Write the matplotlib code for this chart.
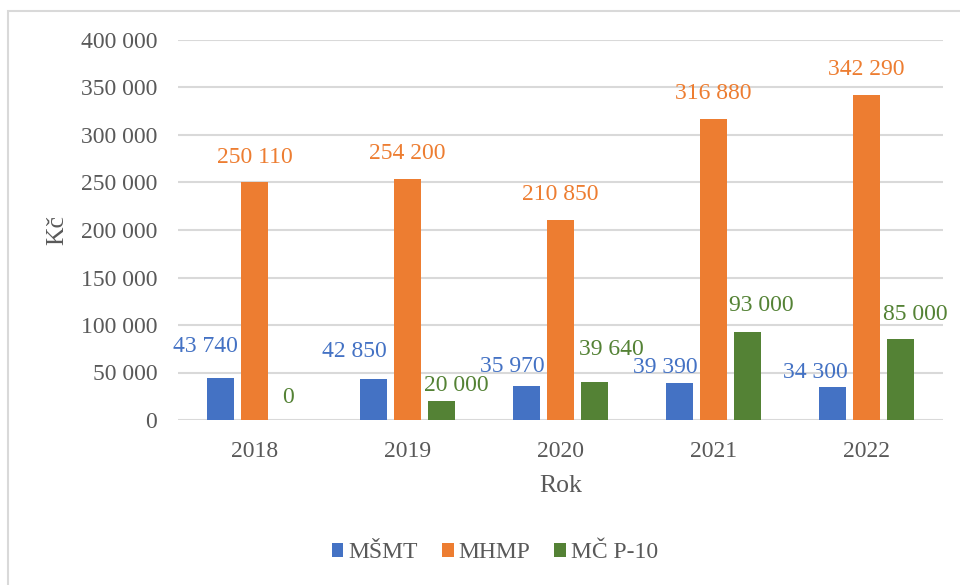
import matplotlib
matplotlib.use("Agg")
import matplotlib.pyplot as plt
from matplotlib.patches import Rectangle
import numpy as np

years = ["2018", "2019", "2020", "2021", "2022"]
series_names = ["MŠMT", "MHMP", "MČ P-10"]
msmt = [43740, 42850, 35970, 39390, 34300]
mhmp = [250110, 254200, 210850, 316880, 342290]
mcp10 = [0, 20000, 39640, 93000, 85000]
colors = ["#4472C4", "#ED7D31", "#548235"]

# label offsets (points) relative to bar top center, as placed in the reference
label_dx = [[-11, -14, -10, -10, -12],
            [0, 0, 0, 0, 0],
            [0, 11, 12, 10, 11]]
label_dy = [[23, 20, 14, 11, 11],
            [18, 18, 18, 18, 18],
            [16, 11, 24, 19, 18]]

def fmt(v):
    return f"{v:,}".replace(",", " ")

FAM = ['Liberation Serif', 'DejaVu Serif']
plt.rcParams['font.family'] = FAM
txt = "#595959"

fig = plt.figure(figsize=(9.6, 5.85), dpi=100)
W, H = 960, 585
ax = fig.add_axes([178 / W, 1 - 420 / H, (943 - 178) / W, (420 - 40) / H])

# chart border
fig.patches.append(Rectangle((8 / W, -0.1), 1.2, 1 - 11 / H + 0.1, transform=fig.transFigure,
                             fill=False, edgecolor="#D9D9D9", linewidth=1.5, zorder=0))

x = np.arange(len(years))
step = 0.222
width = 0.176
data = [msmt, mhmp, mcp10]
for k, (vals, col, name) in enumerate(zip(data, colors, series_names)):
    xs = x + (k - 1) * step
    ax.bar(xs, vals, width=width, color=col, label=name, zorder=3)
    for i, v in enumerate(vals):
        ax.annotate(fmt(v), (xs[i], v), xytext=(label_dx[k][i], label_dy[k][i]),
                    textcoords="offset points", ha="center", va="center",
                    color=col, fontsize=17, family=FAM)

ax.set_xlim(-0.5, len(years) - 0.5)
ax.set_ylim(0, 400000)
ax.set_yticks(np.arange(0, 400001, 50000))
ax.set_yticklabels([fmt(v) for v in range(0, 400001, 50000)])
ax.set_xticks(x)
ax.set_xticklabels(years)
ax.tick_params(axis="both", length=0, labelsize=17, labelcolor=txt)
ax.tick_params(axis="y", pad=15)
ax.tick_params(axis="x", pad=15)
ax.grid(axis="y", color="#D9D9D9", linewidth=1.5, zorder=0)
for s in ax.spines.values():
    s.set_visible(False)
ax.set_axisbelow(True)

ax.set_xlabel("Rok", fontsize=18.5, color=txt, labelpad=9.5)
fig.text(57 / W, 1 - 230 / H, "Kč", rotation=90, fontsize=18.5, color=txt,
         ha="center", va="center")

leg = fig.legend(loc="center", bbox_to_anchor=(495 / W, 1 - 553 / H), ncol=3,
                 frameon=False, prop={'family': FAM, 'size': 17},
                 handlelength=0.5, handleheight=0.5,
                 handletextpad=0.22, columnspacing=1.0)
for t in leg.get_texts():
    t.set_color(txt)

fig.savefig("out.png", dpi=100)
